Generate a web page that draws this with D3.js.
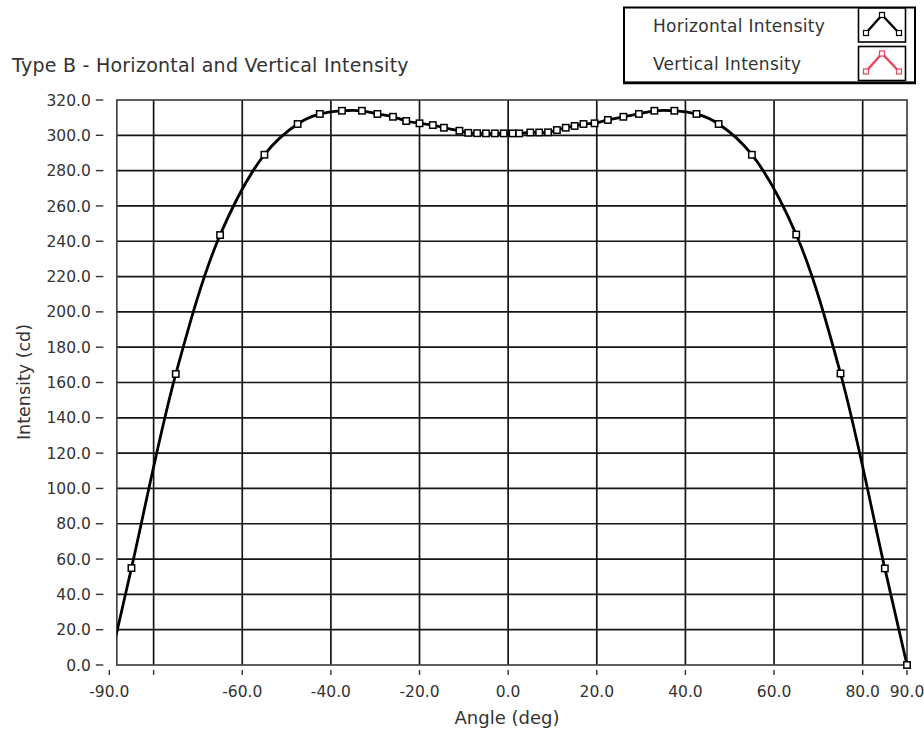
<!DOCTYPE html>
<html>
<head>
<meta charset="utf-8">
<script src="https://cdn.jsdelivr.net/npm/d3@7"></script>
<style>
  html, body { margin: 0; padding: 0; background: #fff; }
  svg { display: block; }
  text { font-family: "DejaVu Sans", Verdana, sans-serif; fill: #333; }
</style>
</head>
<body>
<svg id="chart" width="924" height="734"></svg>
<script>
// ---- data ----
const angles = [-90, -85, -75, -65, -55, -47.5, -42.5, -37.5, -33, -29.5, -26, -23, -20, -17, -14.5, -11, -9, -7, -5, -3, -1,
                1, 2.5, 5, 7, 9, 11, 13, 15, 17, 19.5, 22.5, 26, 29.5, 33, 37.5, 42.5, 47.5, 55, 65, 75, 85, 90];
const horizontalIntensity = [0, 54.9, 164.8, 243.5, 289, 306.4, 312.1, 313.9, 313.9, 312.1, 310.5, 308.1, 306.8, 305.8, 304.3, 302.6, 301.4, 301.2, 301.1, 301.1, 301.1,
                             301.1, 301.1, 301.6, 301.6, 301.7, 303.0, 304.3, 305.3, 306.4, 306.8, 308.7, 310.5, 312.1, 313.9, 313.9, 312.1, 306.4, 289, 243.8, 165.1, 54.7, 0];
const xTickValues = [-90, -80, -60, -40, -20, 0, 20, 40, 60, 80, 90];
const xTickLabels = ["-90.0", "", "-60.0", "-40.0", "-20.0", "0.0", "20.0", "40.0", "60.0", "80.0", "90.0"];
const xGridValues = [-80, -60, -40, -20, 0, 20, 40, 60, 80];
const yTickValues = [0, 20, 40, 60, 80, 100, 120, 140, 160, 180, 200, 220, 240, 260, 280, 300, 320];
const yGridValues = [20, 40, 60, 80, 100, 120, 140, 160, 180, 200, 220, 240, 260, 280, 300];
const legendNames = ["Horizontal Intensity", "Vertical Intensity"];
const legendColors = ["#000000", "#e8455c"];
const titleText = "Type B - Horizontal and Vertical Intensity";
const xAxisTitle = "Angle (deg)";
const yAxisTitle = "Intensity (cd)";
const xVisibleMin = -88.3;

// ---- layout ----
(function () {
const svg = d3.select("#chart");
const x = d3.scaleLinear().domain([-90, 90]).range([109.3, 907]);
const y = d3.scaleLinear().domain([0, 320]).range([665, 100]);
const pL = x(xVisibleMin), pR = x(90), pT = y(320), pB = y(0);

// title
svg.append("text").attr("x", 12).attr("y", 72)
  .style("font-size", "19px").style("letter-spacing", "0.25px").text(titleText);

// grid
const g = svg.append("g");
g.selectAll(".vg").data(xGridValues).join("line")
  .attr("x1", d => x(d)).attr("x2", d => x(d)).attr("y1", pT).attr("y2", pB)
  .attr("stroke", "#151515").attr("stroke-width", 1.7);
g.selectAll(".hg").data(yGridValues).join("line")
  .attr("x1", pL).attr("x2", pR).attr("y1", d => y(d)).attr("y2", d => y(d))
  .attr("stroke", "#151515").attr("stroke-width", 1.7);

// frame
g.append("rect").attr("x", pL).attr("y", pT).attr("width", pR - pL).attr("height", pB - pT)
  .attr("fill", "none").attr("stroke", "#444").attr("stroke-width", 1.7);

// y axis ticks + labels
const yAx = svg.append("g");
yAx.selectAll("line").data(yTickValues).join("line")
  .attr("x1", pL - 21).attr("x2", pL - 13.5)
  .attr("y1", d => y(d)).attr("y2", d => y(d))
  .attr("stroke", "#333").attr("stroke-width", 1.4);
yAx.selectAll("text").data(yTickValues).join("text")
  .attr("x", pL - 26).attr("y", d => y(d)).attr("dy", "0.36em")
  .attr("text-anchor", "end").style("font-size", "15.5px")
  .text(d => d3.format(".1f")(d));

// x axis ticks + labels
const xAx = svg.append("g");
xAx.selectAll("line").data(xTickValues).join("line")
  .attr("x1", d => x(d)).attr("x2", d => x(d)).attr("y1", pB + 5).attr("y2", pB + 10)
  .attr("stroke", "#333").attr("stroke-width", 1.4);
xAx.selectAll("text").data(xTickValues).join("text")
  .attr("x", d => x(d)).attr("y", 697)
  .attr("text-anchor", "middle").style("font-size", "15.5px")
  .text((d, i) => xTickLabels[i]);

// axis titles
svg.append("text").attr("x", 507).attr("y", 724).attr("text-anchor", "middle")
  .style("font-size", "18px").text(xAxisTitle);
svg.append("text").attr("transform", "translate(30,382) rotate(-90)").attr("text-anchor", "middle")
  .style("font-size", "17.5px").text(yAxisTitle);

// clip
svg.append("clipPath").attr("id", "plotclip").append("rect")
  .attr("x", pL).attr("y", pT - 10).attr("width", pR - pL + 6).attr("height", pB - pT + 20);

const pts = angles.map((a, i) => [a, horizontalIntensity[i]]);
const line = d3.line().x(d => x(d[0])).y(d => y(d[1])).curve(d3.curveCatmullRom.alpha(0.5));
const plot = svg.append("g").attr("clip-path", "url(#plotclip)");
plot.append("path").datum(pts).attr("d", line)
  .attr("fill", "none").attr("stroke", legendColors[0]).attr("stroke-width", 2.8);
plot.selectAll("rect.m").data(pts).join("rect").attr("class", "m")
  .attr("x", d => x(d[0]) - 3.2).attr("y", d => y(d[1]) - 3.2)
  .attr("width", 6.4).attr("height", 6.4)
  .attr("fill", "#fff").attr("stroke", "#000").attr("stroke-width", 1.5);

// legend
const lg = svg.append("g");
lg.append("rect").attr("x", 624).attr("y", 7.5).attr("width", 291).attr("height", 75)
  .attr("fill", "#fff").attr("stroke", "#000").attr("stroke-width", 2);
lg.append("line").attr("x1", 623).attr("x2", 916).attr("y1", 83).attr("y2", 83)
  .attr("stroke", "#000").attr("stroke-width", 2.5);
legendNames.forEach((name, i) => {
  const oy = i * 38.5;
  lg.append("text").attr("x", 653).attr("y", 31.5 + oy)
    .style("font-size", "17px").style("letter-spacing", "0.3px").text(name);
  lg.append("rect").attr("x", 858.5).attr("y", 8 + oy).attr("width", 47).attr("height", 34)
    .attr("fill", "#fff").attr("stroke", "#000").attr("stroke-width", 1.6);
  const icon = [[866, 33 + oy], [882, 15 + oy], [899, 33 + oy]];
  lg.append("path").attr("d", d3.line()(icon)).attr("fill", "none")
    .attr("stroke", legendColors[i]).attr("stroke-width", 2.4);
  lg.selectAll(null).data(icon).join("rect")
    .attr("x", d => d[0] - 2.5).attr("y", d => d[1] - 2.5).attr("width", 5).attr("height", 5)
    .attr("fill", "#fff").attr("stroke", legendColors[i]).attr("stroke-width", 1.2);
});
})();
</script>
</body>
</html>
